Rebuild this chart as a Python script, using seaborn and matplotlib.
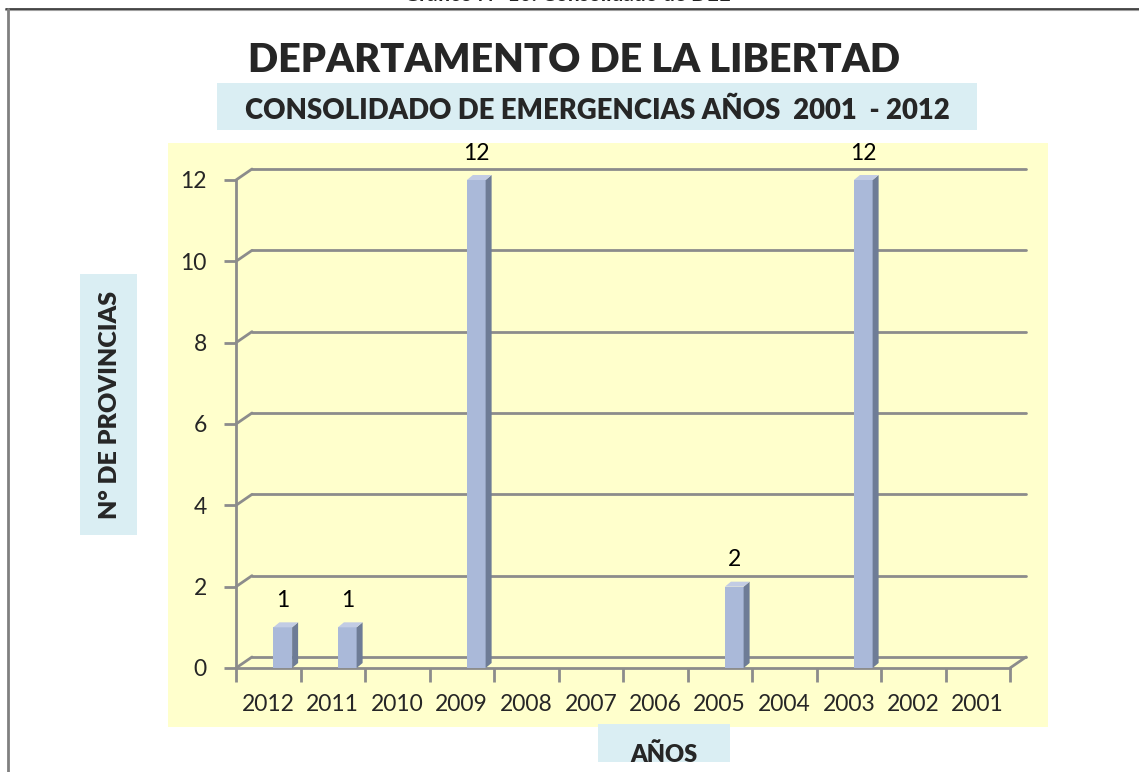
import matplotlib
matplotlib.use("Agg")
import matplotlib.pyplot as plt
import seaborn as sns
import pandas as pd
import numpy as np
from matplotlib.patches import Rectangle, Polygon
from matplotlib.lines import Line2D

# ---------------- data ----------------
years = ["2012", "2011", "2010", "2009", "2008", "2007",
         "2006", "2005", "2004", "2003", "2002", "2001"]
values = [1, 1, 0, 12, 0, 0, 0, 2, 0, 12, 0, 0]
yticks = [0, 2, 4, 6, 8, 10, 12]

top_caption = "Gráfico N° 10: Consolidado de DEE"
title = "DEPARTAMENTO DE LA LIBERTAD"
subtitle = "CONSOLIDADO DE EMERGENCIAS AÑOS  2001  - 2012"
ylabel = "N° DE PROVINCIAS"
xlabel = "AÑOS"

# ---------------- style ----------------
sns.set_style("white")
plt.rcParams['font.family'] = ['Lato', 'DejaVu Sans']

W, H = 1139, 772
fig = plt.figure(figsize=(W / 100, H / 100), dpi=100)
fig.patch.set_facecolor("white")


def fx(px):
    return px / W


def fy(py):
    return 1 - py / H


def frect(x0, y0, x1, y1, color, z=-1):
    fig.add_artist(Rectangle((fx(x0), fy(y1)), fx(x1) - fx(x0), fy(y0) - fy(y1),
                             transform=fig.transFigure, facecolor=color,
                             edgecolor="none", zorder=z))


YELLOW = "#FFFFCC"
BLUEBOX = "#DAEEF3"
GRID = "#8C8C8C"
FACE = "#AAB9D9"
SIDE = "#6E7C96"
TOP = "#C2CCE4"

# background panels
frect(168, 143, 1048, 727, YELLOW)
frect(217, 83, 977, 130, BLUEBOX)
frect(80, 274, 137, 535, BLUEBOX)
frect(598, 724, 730, 762, BLUEBOX, z=-0.5)

# outer frame lines
fig.add_artist(Line2D([fx(6), 1], [fy(8.5), fy(8.5)], transform=fig.transFigure,
                      color="#333333", lw=1.2, zorder=5))
fig.add_artist(Line2D([fx(6), 1], [fy(10), fy(10)], transform=fig.transFigure,
                      color="#A0A0A0", lw=1.5, zorder=4))
fig.add_artist(Line2D([fx(7.5), fx(7.5)], [fy(9), 0], transform=fig.transFigure,
                      color="#808080", lw=2, zorder=5))

# ---------------- main axes ----------------
ax = fig.add_axes([fx(236), fy(668), fx(1010) - fx(236), fy(180) - fy(668)])
ax.set_facecolor("none")

df = pd.DataFrame({"year": years, "value": values})
sns.barplot(data=df, x="year", y="value", order=years, color=FACE,
            saturation=1, width=0.29, edgecolor="none", ax=ax, zorder=3)

ax.set_xlim(-0.5, 11.5)
ax.set_ylim(0, 12)
fig.canvas.draw()

inv = ax.transData.inverted()


def offset_pt(x, y, dx, dy):
    p = ax.transData.transform((x, y))
    return inv.transform((p[0] + dx, p[1] + dy))


# back-wall gridlines and left/floor diagonals
WDX, WDY = 16, 11
for yv in yticks:
    a = offset_pt(-0.5, yv, WDX, WDY)
    b = offset_pt(11.5, yv, WDX, WDY)
    ax.add_line(Line2D([a[0], b[0]], [a[1], b[1]], color=GRID, lw=2,
                       clip_on=False, zorder=1))
    ax.add_line(Line2D([-0.5, a[0]], [yv, a[1]], color=GRID, lw=2,
                       clip_on=False, zorder=1))
c = offset_pt(11.5, 0, WDX, WDY)
ax.add_line(Line2D([11.5, c[0]], [0, c[1]], color=GRID, lw=2, clip_on=False, zorder=1))

# shift bars, add 3D faces and labels
BDX, BDY = 6, 5
for p, v in zip(ax.patches, values):
    p.set_x(p.get_x() + 0.225)
    if v <= 0:
        continue
    x0, w, h = p.get_x(), p.get_width(), p.get_height()
    s1 = offset_pt(x0 + w, 0, BDX, BDY)
    s2 = offset_pt(x0 + w, h, BDX, BDY)
    t1 = offset_pt(x0, h, BDX, BDY)
    ax.add_patch(Polygon([(x0 + w, 0), (x0 + w, h), tuple(s2), tuple(s1)],
                         closed=True, facecolor=SIDE, edgecolor="none",
                         clip_on=False, zorder=3))
    ax.add_patch(Polygon([(x0, h), (x0 + w, h), tuple(s2), tuple(t1)],
                         closed=True, facecolor=TOP, edgecolor="none",
                         clip_on=False, zorder=3))
    ax.annotate(str(v), (x0 + w / 2, h), xytext=(0, 27), textcoords="offset pixels",
                ha="center", va="center", fontsize=16.5, color="black",
                annotation_clip=False)

# spines and ticks
for s in ["top", "right"]:
    ax.spines[s].set_visible(False)
for s in ["left", "bottom"]:
    ax.spines[s].set_color(GRID)
    ax.spines[s].set_linewidth(2)
    ax.spines[s].set_zorder(2)

ax.set_yticks(yticks)
ax.set_yticklabels([str(t) for t in yticks])
ax.tick_params(axis="y", length=9, width=2, color=GRID, labelsize=16.5, pad=12,
               left=True)
ax.set_xticks(np.arange(-0.5, 12, 1))
ax.set_xticklabels([""] * 13)
ax.set_xticks(range(12), minor=True)
ax.set_xticklabels(years, minor=True)
ax.tick_params(axis="x", which="major", length=10, width=2, color=GRID, bottom=True)
ax.tick_params(axis="x", which="minor", length=0, labelsize=16.5, pad=19)
ax.set_xlabel("")
ax.set_ylabel("")
ax.grid(False)

# ---------------- texts ----------------
fig.text(fx(567), fy(1), top_caption, ha="center", va="baseline",
         fontsize=15, fontweight="bold", color="#222222")
fig.text(fx(574), fy(60), title, ha="center", va="center",
         fontsize=28.5, fontweight="heavy")
fig.text(fx(597), fy(111), subtitle, ha="center", va="center",
         fontsize=19.8, fontweight="heavy")
fig.text(fx(110), fy(405), ylabel, ha="center", va="center", rotation=90,
         fontsize=18, fontweight="heavy")
fig.text(fx(664), fy(762), xlabel, ha="center", va="baseline",
         fontsize=17, fontweight="heavy")

fig.savefig("out.png", dpi=100)
